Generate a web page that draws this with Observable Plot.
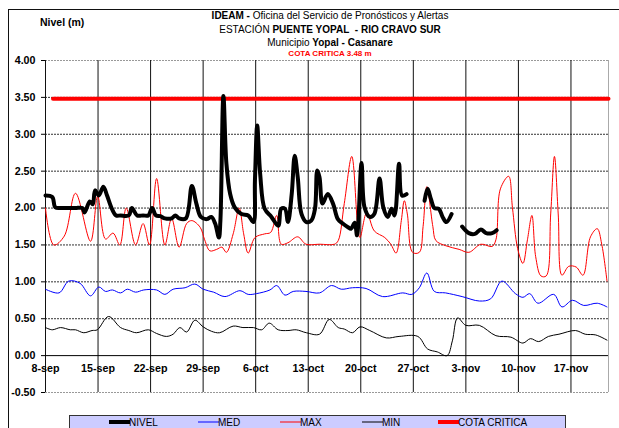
<!DOCTYPE html>
<html>
<head>
<meta charset="utf-8">
<script src="https://cdn.jsdelivr.net/npm/d3@7"></script>
<script src="https://cdn.jsdelivr.net/npm/@observablehq/plot@0.6"></script>
<style>
  html, body { margin: 0; padding: 0; background: #fff; }
  body { width: 619px; height: 428px; overflow: hidden; position: relative; font-family: "Liberation Sans", Arial, sans-serif; }
  .abs { position: absolute; white-space: nowrap; }
  .t { left: 130px; width: 400px; text-align: center; font-size: 10px; color: #000; line-height: 12px; }
  #frame { position: absolute; left: 8px; top: 9px; width: 700px; height: 500px; border-left: 1px solid #111; border-top: 1px solid #111; }
  #chart { position: absolute; left: 0; top: 0; }
  #legend { position: absolute; left: 69px; top: 415px; width: 497px; height: 16px; background: #ccccff; border: 1px solid #333; box-sizing: border-box; font-size: 10px; }
  .li { position: absolute; top: 1px; line-height: 12px; }
  .sw { position: absolute; top: 6px; }
</style>
</head>
<body>
<div id="frame"></div>
<div id="chart"></div>
<div class="abs" style="left:40px;top:16px;font-size:10.5px;font-weight:bold;">Nivel (m)</div>
<div class="abs t" style="top:10px;"><b>IDEAM -</b> Oficina del Servicio de Pronósticos y Alertas</div>
<div class="abs t" style="top:24px;">ESTACIÓN <b>PUENTE YOPAL&nbsp; - RIO CRAVO SUR</b></div>
<div class="abs t" style="top:37px;">Municipio <b>Yopal - Casanare</b></div>
<div class="abs t" style="top:48px;font-size:8px;font-weight:bold;color:#ff0000;">COTA CRITICA 3.48 m</div>
<div id="legend"></div>
<script>
// ---- data (days since 8-sep) ----
const xTickDays = [0, 7, 14, 21, 28, 35, 42, 49, 56, 63, 70];
const xTickLabels = ["8-sep", "15-sep", "22-sep", "29-sep", "6-oct", "13-oct", "20-oct", "27-oct", "3-nov", "10-nov", "17-nov"];
const yTicks = [-0.5, 0, 0.5, 1, 1.5, 2, 2.5, 3, 3.5, 4];

const nivelDay = [0.0,0.9,1.3,2.0,3.0,4.0,4.9,5.2,5.9,6.3,6.6,7.1,7.7,8.2,8.85,9.4,10.0,11.1,11.5,12.2,13.0,13.7,14.2,14.7,15.3,15.9,16.8,17.3,17.8,18.7,19.5,20.1,20.7,21.5,22.1,22.6,23.1,23.3,23.7,24.1,24.6,25.2,26.1,27.0,27.7,27.9,28.2,28.6,29.2,30.1,31.0,31.4,31.9,32.3,32.8,33.2,33.6,34.1,34.75,35.4,35.9,36.2,36.5,36.9,37.6,38.3,38.95,39.6,40.3,40.7,41.2,41.5,42.1,42.5,43.2,43.8,44.5,45.0,45.6,46.1,46.5,47.1,47.5,48.1,49.3,50.5,50.9,51.35,51.8,52.4,52.9,53.4,54.1,54.8,55.5,56.4,57.2,58.0,58.7,59.5,60.1];
const nivelVal = [2.17,2.15,2.01,2.0,2.0,2.0,2.0,1.94,2.09,2.05,2.24,2.17,2.29,2.17,1.99,1.9,1.9,1.9,2.0,1.9,1.9,1.9,2.0,1.9,1.89,1.86,1.86,1.9,1.86,1.86,2.30,2.06,1.88,1.85,1.88,1.79,1.60,1.83,3.52,2.60,2.19,2.01,1.92,1.90,1.81,2.37,3.12,2.46,1.99,1.88,1.76,1.99,1.99,1.81,2.19,2.71,2.42,1.92,1.81,1.83,1.99,2.51,2.42,2.06,2.19,2.06,1.85,1.79,1.74,1.72,1.80,1.63,2.61,2.01,1.88,1.92,2.40,2.01,1.88,1.99,1.90,2.60,2.17,2.19,null,2.10,2.26,2.12,2.00,1.99,1.88,1.81,1.92,null,1.75,1.66,1.65,1.71,1.66,1.66,1.70];

const maxDay = [0.0,1.1,2.5,4.0,6.0,6.95,8.0,9.0,9.9,10.75,12.0,13.0,13.85,14.8,15.9,16.8,17.8,18.8,19.5,20.6,21.2,21.9,22.8,23.5,24.1,25.0,25.8,26.4,27.0,27.9,29.2,30.0,30.8,31.4,32.3,33.6,34.7,36.5,38.5,39.0,39.8,40.8,41.6,41.9,42.8,43.8,45.2,46.0,46.7,47.4,47.8,48.2,48.9,49.8,50.3,50.8,51.6,52.0,53.3,55.1,56.4,58.0,59.5,60.0,60.6,61.7,62.2,62.9,63.6,64.2,64.8,65.3,66.0,66.7,67.3,67.8,68.3,68.8,69.7,70.7,71.6,72.6,73.5,74.1,74.8];
const maxVal = [2.0,1.50,1.62,2.20,1.55,2.16,1.58,1.66,1.50,2.0,1.5,1.79,1.5,2.40,1.5,1.86,1.47,1.79,1.83,1.74,1.57,1.42,1.44,1.47,1.40,1.65,2.00,1.65,1.39,1.60,1.65,1.67,1.90,1.51,1.53,1.61,1.51,1.51,1.51,1.56,2.06,2.70,1.75,1.60,1.94,1.69,1.60,1.51,1.39,1.83,2.10,1.92,1.40,1.40,1.75,2.29,1.75,1.56,1.49,1.44,1.40,1.51,1.48,1.57,2.26,2.43,2.01,1.45,1.25,1.57,1.90,1.34,1.08,1.08,1.92,2.70,1.92,1.09,1.21,1.20,1.09,1.61,1.72,1.51,1.01];

const medDay = [0,1.8,3.1,4.6,6.0,7.1,8.0,8.9,10.0,10.9,12.0,13.1,14.8,15.9,17.0,18.6,19.9,21.0,22.4,23.9,25.9,27.0,28.1,29.9,30.8,31.9,33.0,34.7,36.5,38.1,39.4,40.9,42.7,44.9,47.6,48.8,49.8,50.8,51.8,53.3,55.5,57.8,59.3,60.8,62.6,63.6,64.5,65.6,67.7,68.8,70.2,71.7,73.5,74.8];
const medVal = [0.90,0.85,1.01,0.98,0.81,0.93,0.87,0.89,0.85,0.90,0.86,0.89,0.89,0.83,0.90,0.92,0.97,0.90,0.86,0.80,0.88,0.83,0.84,0.89,0.95,0.82,0.87,0.87,0.85,0.95,0.90,0.92,0.91,0.80,0.85,0.83,0.92,1.12,0.87,0.85,0.80,0.74,0.77,1.01,0.84,0.79,0.84,0.71,0.83,0.66,0.75,0.68,0.71,0.66];

const minDay = [0,0.9,2.0,3.3,4.0,5.1,6.2,6.9,8.4,10.0,11.1,12.1,13.7,14.8,16.1,17.0,17.9,18.8,19.9,21.0,22.1,23.2,25.0,26.3,27.7,28.8,29.8,31.0,32.3,33.4,34.75,36.5,37.8,39.0,39.8,40.9,41.9,43.2,45.4,47.1,49.6,50.9,52.2,53.5,54.2,54.9,56.0,57.8,60.0,62.0,63.6,64.6,65.7,67.0,68.4,70.6,71.9,73.3,74.8];
const minVal = [0.38,0.35,0.38,0.35,0.35,0.31,0.34,0.35,0.53,0.38,0.34,0.31,0.35,0.30,0.26,0.29,0.38,0.32,0.48,0.39,0.33,0.31,0.40,0.38,0.38,0.35,0.44,0.35,0.34,0.35,0.31,0.29,0.49,0.38,0.36,0.31,0.39,0.34,0.24,0.26,0.26,0.09,0.05,0.00,0.20,0.51,0.41,0.41,0.27,0.25,0.17,0.23,0.19,0.26,0.29,0.34,0.29,0.28,0.21];

const cotaDay = [1, 75];
const cotaVal = [3.48, 3.48];

const gridDotted = [0.5, 1, 1.5, 2, 2.5, 3, 3.5];
const gridLight = [4, -0.5];

const pts = (xs, ys) => xs.map((d, i) => ({d, v: ys[i]}));
const nivel = pts(nivelDay, nivelVal);
const maxS = pts(maxDay, maxVal);
const medS = pts(medDay, medVal);
const minS = pts(minDay, minVal);
const cota = pts(cotaDay, cotaVal);

const chart = Plot.plot({
  width: 619,
  height: 410,
  marginLeft: 45,
  marginRight: 11,
  marginTop: 60,
  marginBottom: 18,
  style: { fontFamily: "'Liberation Sans', Arial, sans-serif", fontSize: "10.7px", fontWeight: "bold", background: "transparent", overflow: "visible" },
  x: { domain: [0, 75], axis: null },
  y: { domain: [-0.5, 4], axis: null },
  marks: [
    Plot.ruleY(gridDotted, { stroke: "#333", strokeDasharray: "2,1" }),
    Plot.ruleY(gridLight, { stroke: "#999", strokeDasharray: "2,1" }),
    Plot.ruleX(xTickDays, { y1: -0.5, y2: 4, stroke: "#111" }),
    Plot.ruleX([75], { y1: -0.5, y2: 4, stroke: "#aaa" }),
    Plot.ruleY([0], { stroke: "#000" }),
    Plot.axisY({ ticks: yTicks, tickFormat: d => d.toFixed(2), tickSize: 4, tickPadding: 6, fontWeight: "bold", label: null, stroke: "#000" }),
    Plot.line(minS, { x: "d", y: "v", stroke: "#000", strokeWidth: 1, curve: "catmull-rom" }),
    Plot.line(medS, { x: "d", y: "v", stroke: "#0000ff", strokeWidth: 1, curve: "catmull-rom" }),
    Plot.line(maxS, { x: "d", y: "v", stroke: "#ff0000", strokeWidth: 1, curve: "catmull-rom" }),
    Plot.line(cota, { x: "d", y: "v", stroke: "#ff0000", strokeWidth: 4 }),
    Plot.line(nivel, { x: "d", y: "v", stroke: "#000", strokeWidth: 4, curve: "catmull-rom", strokeLinejoin: "round" }),
    Plot.text(xTickDays, { x: d => d, y: 0, text: (d, i) => xTickLabels[i], dy: 13, fill: "#000", fontWeight: "bold" })
  ]
});
document.getElementById("chart").appendChild(chart);

// ---- legend ----
const legendNames = ["NIVEL", "MED", "MAX", "MIN", "COTA CRITICA"];
const legendColors = ["#000", "#0000ff", "#ff0000", "#000", "#ff0000"];
const legendWidths = [4, 1, 1, 1, 4];
const legendX = [39, 128, 210, 292, 368];
const legend = document.getElementById("legend");
legendNames.forEach((n, i) => {
  const s = document.createElementNS("http://www.w3.org/2000/svg", "svg");
  s.setAttribute("width", 21); s.setAttribute("height", 6);
  s.setAttribute("class", "sw");
  s.style.left = legendX[i] + "px";
  s.style.top = "3px";
  s.innerHTML = `<line x1="0" x2="21" y1="3" y2="3" stroke="${legendColors[i]}" stroke-width="${legendWidths[i]}" stroke-linecap="round"/>`;
  legend.appendChild(s);
  const t = document.createElement("div");
  t.className = "li";
  t.style.left = (legendX[i] + 20) + "px";
  t.textContent = n;
  legend.appendChild(t);
});
</script>
</body>
</html>
